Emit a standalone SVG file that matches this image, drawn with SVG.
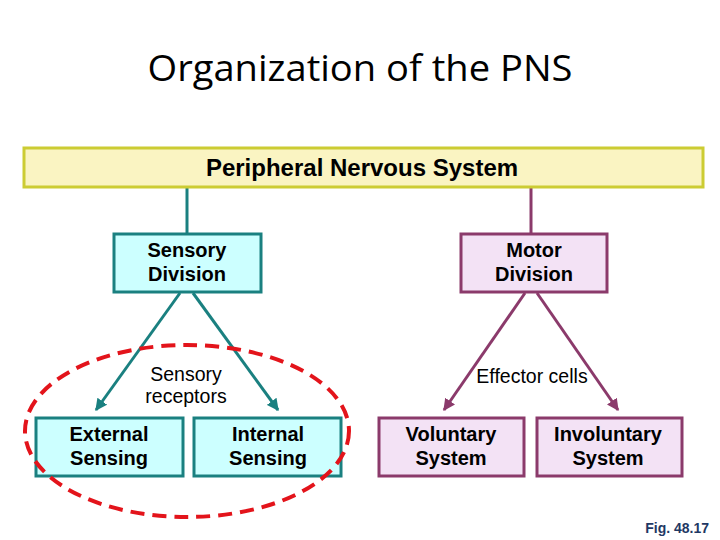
<svg xmlns="http://www.w3.org/2000/svg" width="720" height="540" viewBox="0 0 720 540">
<defs>
<style>
.title{font-family:"Open Sans","Liberation Sans",sans-serif;font-size:36px;fill:#000}
.bt{font-family:"Liberation Sans",Arial,sans-serif;font-weight:bold;font-size:20px;fill:#000;text-anchor:middle}
.lbl{font-family:"Liberation Sans",Arial,sans-serif;font-size:19.5px;fill:#000;text-anchor:middle}
.sens{fill:#CCFFFF;stroke:#1A8080;stroke-width:3}
.mot{fill:#F3E2F5;stroke:#8B3A6B;stroke-width:3}
.tl{stroke:#1A8080;stroke-width:3;fill:none}
.pl{stroke:#8B3A6B;stroke-width:3;fill:none}
</style>
<marker id="at" viewBox="0 0 10 10" refX="9" refY="5" markerWidth="4" markerHeight="4" orient="auto" markerUnits="strokeWidth"><path d="M0,0 L10,5 L0,10 z" fill="#1A8080"/></marker>
<marker id="ap" viewBox="0 0 10 10" refX="9" refY="5" markerWidth="4" markerHeight="4" orient="auto" markerUnits="strokeWidth"><path d="M0,0 L10,5 L0,10 z" fill="#8B3A6B"/></marker>
</defs>
<rect width="720" height="540" fill="#fff"/>
<text class="title" x="360" y="81" text-anchor="middle" textLength="425" lengthAdjust="spacingAndGlyphs">Organization of the PNS</text>
<g id="connectors">
<line class="tl" x1="187" y1="188" x2="187" y2="233"/>
<line class="pl" x1="531" y1="188" x2="531" y2="233"/>
<line class="tl" x1="180" y1="293" x2="96" y2="410" marker-end="url(#at)"/>
<line class="tl" x1="193" y1="293" x2="278" y2="410" marker-end="url(#at)"/>
<line class="pl" x1="525" y1="293" x2="444" y2="410" marker-end="url(#ap)"/>
<line class="pl" x1="537" y1="293" x2="618" y2="410" marker-end="url(#ap)"/>
<text class="lbl" x="186" y="381">Sensory</text>
<text class="lbl" x="186" y="403">receptors</text>
<text class="lbl" x="532" y="383">Effector cells</text>
</g>
<g id="pns">
<rect x="24" y="148" width="679" height="39" fill="#FAF4C2" stroke="#CCCC33" stroke-width="3"/>
<text class="bt" x="362" y="176" style="font-size:24px">Peripheral Nervous System</text>
</g>
<g id="sensory">
<rect class="sens" x="114" y="234" width="147" height="58"/>
<text class="bt" x="187" y="257">Sensory</text>
<text class="bt" x="187" y="281">Division</text>
</g>
<g id="motor">
<rect class="mot" x="461" y="234" width="146" height="58"/>
<text class="bt" x="534" y="257">Motor</text>
<text class="bt" x="534" y="281">Division</text>
</g>
<g id="external">
<rect class="sens" x="36" y="418" width="147" height="58"/>
<text class="bt" x="109" y="441">External</text>
<text class="bt" x="109" y="465">Sensing</text>
</g>
<g id="internal">
<rect class="sens" x="194" y="418" width="147" height="58"/>
<text class="bt" x="268" y="441">Internal</text>
<text class="bt" x="268" y="465">Sensing</text>
</g>
<g id="voluntary">
<rect class="mot" x="379" y="418" width="145" height="58"/>
<text class="bt" x="451" y="441">Voluntary</text>
<text class="bt" x="451" y="465">System</text>
</g>
<g id="involuntary">
<rect class="mot" x="537" y="418" width="145" height="58"/>
<text class="bt" x="608" y="441">Involuntary</text>
<text class="bt" x="608" y="465">System</text>
</g>
<g id="highlight">
<ellipse cx="187" cy="431" rx="162" ry="86" fill="none" stroke="#E3141B" stroke-width="4" stroke-dasharray="14 8"/>
</g>
<text x="709" y="533" text-anchor="end" font-family="Liberation Sans,Arial,sans-serif" font-weight="bold" font-size="14" fill="#1F3864">Fig. 48.17</text>
</svg>
